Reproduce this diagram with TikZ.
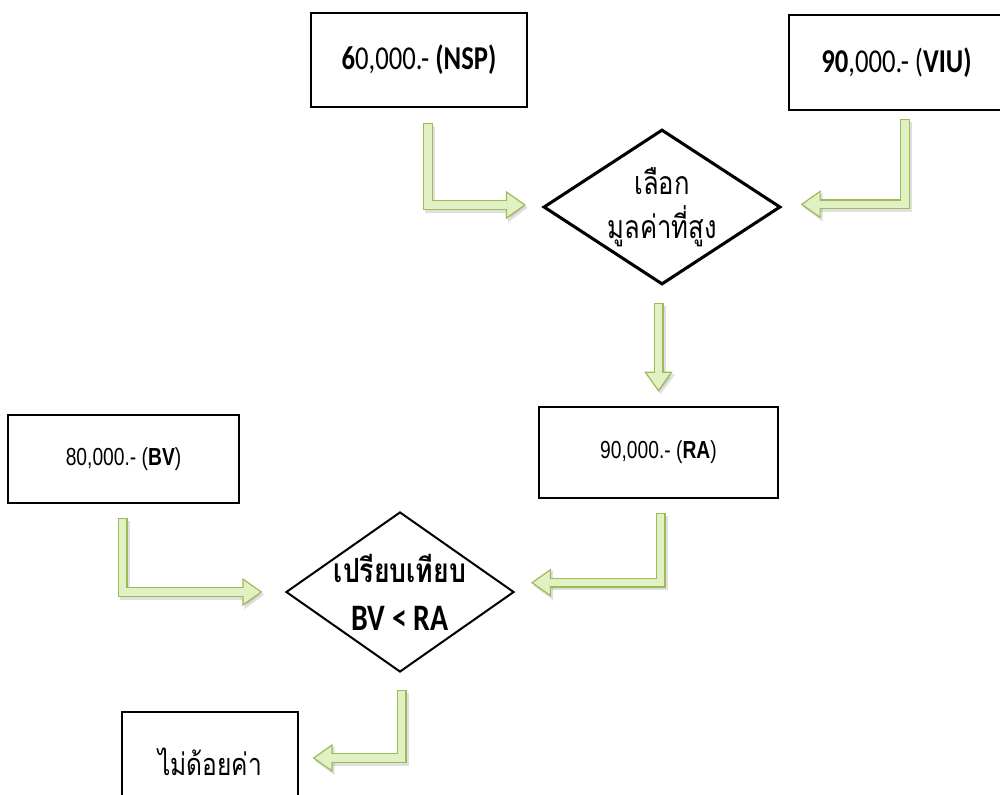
\documentclass[tikz,border=0pt]{standalone}
\usepackage{fontspec}
\setmainfont[FakeStretch=0.8]{Carlito}
\newfontfamily\arialfont[FakeStretch=0.78]{Liberation Sans}
\newfontfamily\thaifont[Script=Thai,FakeStretch=0.8]{Loma}
\usetikzlibrary{shapes.geometric,arrows.meta}

\definecolor{arrline}{HTML}{9BBB59}
\definecolor{arrfill}{HTML}{E2F1C4}

% green bent block arrow: start, path operation, end
\newcommand{\bentarrow}[3]{%
  \draw[line width=7.5pt,draw=black,opacity=0.12,transform canvas={shift={(1.5pt,-2pt)}},
    -{Triangle[width=21pt,length=15pt]}] (#1) #2 (#3);
  \draw[line width=7.5pt,draw=arrline,
    -{Triangle[width=21pt,length=15pt,line width=0.9pt,fill=arrfill]}] (#1) #2 (#3);
  \draw[line width=5.7pt,draw=arrfill,shorten <=0.9pt,shorten >=14pt] (#1) #2 (#3);
}

\begin{document}
\begin{tikzpicture}[x=0.75pt,y=-0.75pt,
  box/.style={shape=rectangle,draw,line width=0.9pt,inner sep=0pt},
  choice/.style={shape=diamond,draw,inner sep=-8pt,align=center}]
\useasboundingbox (0,0) rectangle (1000,794);

\path (419,60) node (nsp) [box,minimum width=162pt,minimum height=70.5pt,font=\fontsize{25}{28}\selectfont] {\textbf{6}0,000.- \textbf{(NSP)}};
\path (896.5,62.5) node (viu) [box,minimum width=161.25pt,minimum height=71.25pt,font=\fontsize{25}{28}\selectfont] {\textbf{90},000.- (\textbf{VIU)}};
\path (662,207) node (pick) [choice,line width=2.3pt,aspect=1.53,minimum width=177.75pt,minimum height=116.25pt,font=\thaifont\fontsize{24}{33}\selectfont] {เลือก\\มูลค่าที่สูง};
\path (658.5,452.5) node (ra) [box,minimum width=179.25pt,minimum height=68.25pt,font=\arialfont\fontsize{18.5}{22}\selectfont] {90,000.- (\textbf{RA})};
\path (123.5,459) node (bv) [box,minimum width=173.25pt,minimum height=66pt,font=\arialfont\fontsize{18.5}{22}\selectfont] {80,000.- (\textbf{BV})};
\path (400,592) node (cmp) [choice,line width=1.5pt,aspect=1.425,minimum width=171pt,minimum height=120pt,font=\fontsize{28}{36}\selectfont] {{\thaifont\fontsize{25}{36}\selectfont\bfseries เปรียบเทียบ}\\\textbf{BV < RA}};
\path (210,762) node (loss) [box,minimum width=132pt,minimum height=75pt,font=\thaifont\fontsize{23}{26}\selectfont] {ไม่ด้อยค่า};

\coordinate (s1) at (428,123);
\coordinate (s2) at (905,119);
\coordinate (s3) at (658.5,303);
\coordinate (s4) at (122.5,518);
\coordinate (s5) at (660.5,513);
\coordinate (s6) at (401.5,690);

\bentarrow{s1}{|-}{[xshift=-12pt,yshift=1.5pt]pick.west}
\bentarrow{s2}{|-}{[xshift=14pt,yshift=2pt]pick.east}
\bentarrow{s3}{--}{[yshift=11pt]ra.north}
\bentarrow{s4}{|-}{[xshift=-17pt]cmp.west}
\bentarrow{s5}{|-}{[xshift=12pt,yshift=7pt]cmp.east}
\bentarrow{s6}{|-}{[xshift=10.5pt,yshift=3pt]loss.east}
\end{tikzpicture}
\end{document}
